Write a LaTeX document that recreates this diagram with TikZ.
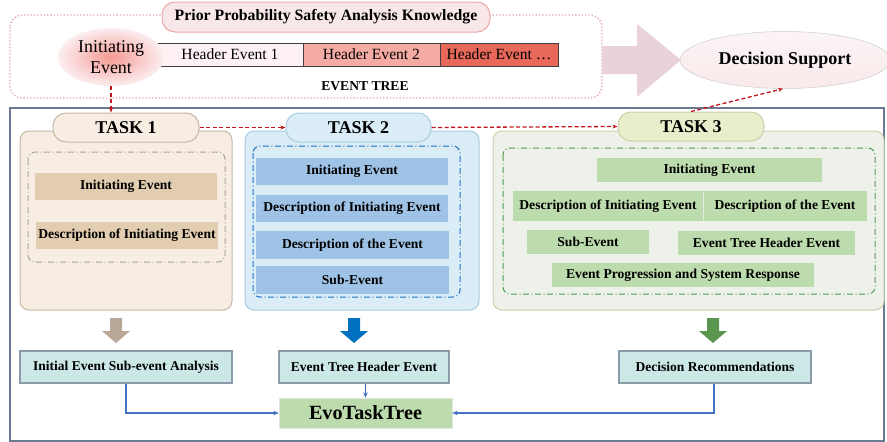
\documentclass[tikz,border=0pt]{standalone}
\usepackage{fontspec}
\setmainfont{Liberation Serif}
\usetikzlibrary{arrows.meta,shapes.geometric,positioning}
\definecolor{pinkdot}{HTML}{E3A5A5}
\definecolor{pillpink}{HTML}{F7E7E9}
\definecolor{pillpinkb}{HTML}{EBA9A6}
\definecolor{he1}{HTML}{FDF1F3}
\definecolor{he2}{HTML}{F5ABA3}
\definecolor{he3}{HTML}{E8685A}
\definecolor{bigarrow}{HTML}{EAD2DC}
\definecolor{dsfill}{HTML}{F8EDEF}
\definecolor{frame}{HTML}{6A7A92}
\definecolor{redd}{HTML}{C0161C}
\definecolor{t1fill}{HTML}{F8EDE3}
\definecolor{t1b}{HTML}{C5B6A6}
\definecolor{t1in}{HTML}{E2CDB0}
\definecolor{t2fill}{HTML}{DAEDF7}
\definecolor{t2b}{HTML}{A9CCE0}
\definecolor{t2in}{HTML}{9FC3E6}
\definecolor{t2dash}{HTML}{1F6FC0}
\definecolor{t3fill}{HTML}{EEF1EA}
\definecolor{t3b}{HTML}{C9D1A9}
\definecolor{t3pill}{HTML}{E8EDCB}
\definecolor{t3in}{HTML}{BDDCAD}
\definecolor{t3dash}{HTML}{4E9A4E}
\definecolor{btmfill}{HTML}{CBE8E6}
\definecolor{btmb}{HTML}{8A9AA8}
\definecolor{conn}{HTML}{4472C4}
\definecolor{arrbeige}{HTML}{B8A898}
\definecolor{arrblue}{HTML}{0070C0}
\definecolor{arrgreen}{HTML}{5A9650}
\tikzset{
  pill/.style={draw, rounded corners=13pt, line width=1pt, font=\bfseries\fontsize{18}{20}\selectfont, inner sep=0pt},
  taskbox/.style={draw, rounded corners=9pt, line width=1pt},
  inbox/.style={rounded corners=7pt, line width=1pt, dash pattern=on 6pt off 2.5pt on 1pt off 2.5pt},
  item/.style={inner sep=0pt, font=\bfseries\fontsize{13.6}{15}\selectfont},
  hev/.style={draw=black!75, line width=1pt, inner sep=0pt, minimum height=23pt, font=\fontsize{15.6}{17}\selectfont},
  btm/.style={draw=btmb, fill=btmfill, line width=1.5pt, inner sep=0pt, minimum height=32pt, font=\bfseries\fontsize{13.5}{15}\selectfont},
  reddash/.style={draw=redd, line width=1.3pt, dash pattern=on 4pt off 2.5pt, -{Stealth[length=5pt,width=4pt]}},
  bconn/.style={draw=conn, line width=1.2pt, -{Stealth[length=5.5pt,width=4.5pt]}}
}
\begin{document}
\begin{tikzpicture}[x=1pt,y=-1pt]
\useasboundingbox (0,0) rectangle (887,442);
% top dotted area
\draw[pinkdot, line width=1.3pt, dotted, rounded corners=12pt] (10,15) rectangle (602,98);
\node[pill, draw=pillpinkb, fill=pillpink, minimum width=328pt, minimum height=30pt, font=\bfseries\fontsize{15.8}{17}\selectfont] (prior) at (326,17) {Prior Probability Safety Analysis Knowledge};
% header events
\node[hev, fill=he1, minimum width=146pt] (h1) at (230,54.5) {Header Event 1};
\node[hev, fill=he2, minimum width=137pt] (h2) at (371.5,54.5) {Header Event 2};
\node[hev, fill=he3, minimum width=118pt] (h3) at (499,54.5) {Header Event \dots};
\node[ellipse, draw=none, inner color=he2!90!red, outer color=he1!70!pillpink, minimum width=106pt, minimum height=58pt, inner sep=0pt, align=center, font=\fontsize{18}{21}\selectfont] (ie) at (111,57) {Initiating\\Event};
\node[font=\bfseries\fontsize{13.6}{15}\selectfont] (et) at (365,86) {EVENT TREE};
% big arrow
\fill[bigarrow] (602,46) -- (637,46) -- (637,24) -- (681,60) -- (637,97) -- (637,74) -- (602,74) -- cycle;
\node[ellipse, draw=black!20, line width=0.5pt, top color=dsfill!60!white, bottom color=dsfill!90!pink, minimum width=210pt, minimum height=57pt, font=\bfseries\fontsize{18}{20}\selectfont] (ds) at (785,60) {Decision Support};
% main frame
\draw[frame, line width=1.6pt] (10,108) rectangle (884,441);
% task 1
\draw[taskbox, draw=t1b, fill=t1fill] (20,131) rectangle (232,310);
\draw[inbox, draw=black!35] (28,152) rectangle (225,262);
\node[item, fill=t1in, minimum width=182pt, minimum height=27pt] (a1) at (126,186.5) {Initiating Event};
\node[item, fill=t1in, minimum width=182pt, minimum height=27pt] (a2) at (127,235.5) {Description of Initiating Event};
\node[pill, draw=t1b, fill=t1fill, minimum width=146pt, minimum height=29pt] (t1) at (126,127.5) {TASK 1};
% task 2
\draw[taskbox, draw=t2b, fill=t2fill] (245,131) rectangle (479,310);
\draw[inbox, draw=t2dash] (253,146) rectangle (460,297);
\node[item, fill=t2in, minimum width=192pt, minimum height=27pt] (b1) at (352,171.5) {Initiating Event};
\node[item, fill=t2in, minimum width=192pt, minimum height=27pt] (b2) at (352,208.5) {Description of Initiating Event};
\node[item, fill=t2in, minimum width=193pt, minimum height=28pt] (b3) at (352.5,245) {Description of the Event};
\node[item, fill=t2in, minimum width=193pt, minimum height=28pt] (b4) at (352.5,279.5) {Sub-Event};
\node[pill, draw=t2b, fill=t2fill, minimum width=145pt, minimum height=29pt] (t2) at (358.5,127.5) {TASK 2};
% task 3
\draw[taskbox, draw=t3b, fill=t3fill] (493,131) rectangle (884,310);
\draw[inbox, draw=t3dash] (503,148) rectangle (875,294);
\node[item, fill=t3in, minimum width=225pt, minimum height=24pt] (c1) at (709.5,170) {Initiating Event};
\node[item, fill=t3in, minimum width=190pt, minimum height=30pt] (c2) at (608,206) {Description of Initiating Event};
\node[item, fill=t3in, minimum width=164pt, minimum height=30pt] (c3) at (785,206) {Description of the Event};
\draw[t3fill!80!t3in, line width=0.8pt] (703,192) -- (703,220);
\node[item, fill=t3in, minimum width=122pt, minimum height=24pt] (c4) at (588,242) {Sub-Event};
\node[item, fill=t3in, minimum width=177pt, minimum height=24pt] (c5) at (766.5,243) {Event Tree Header Event};
\node[item, fill=t3in, minimum width=262pt, minimum height=24pt] (c6) at (683,275) {Event Progression and System Response};
\node[pill, draw=t3b, fill=t3pill, minimum width=146pt, minimum height=29pt] (t3) at (691,126.5) {TASK 3};
% red dashed connectors
\draw[reddash] (ie.south) -- (ie.south |- t1.north);
\draw[reddash] (t1.east) -- (t2.west);
\draw[reddash] (t2.east) -- (t3.west);
\draw[reddash] (t3.north) -- ([xshift=-2pt]ds.south);
% fat down arrows
\fill[arrbeige] (110,318) -- (122,318) -- (122,331) -- (130,331) -- (116,343) -- (102,331) -- (110,331) -- cycle;
\fill[arrblue] (348,318) -- (360,318) -- (360,331) -- (368,331) -- (354,343) -- (340,331) -- (348,331) -- cycle;
\fill[arrgreen] (707,318) -- (719,318) -- (719,331) -- (727,331) -- (713,343) -- (699,331) -- (707,331) -- cycle;
% bottom boxes
\node[btm, minimum width=212pt] (d1) at (126,367) {Initial Event Sub-event Analysis};
\node[btm, minimum width=170pt] (d2) at (364,367) {Event Tree Header Event};
\node[btm, minimum width=192pt] (d3) at (715,367) {Decision Recommendations};
\node[fill=t3in, draw=t3in!80!black!30, inner sep=0pt, minimum width=173pt, minimum height=30pt, font=\bfseries\fontsize{20.2}{22}\selectfont] (evo) at (365.5,413) {EvoTaskTree};
\draw[bconn] (d1.south) |- (evo.west);
\draw[bconn] (d2.south -| evo.north) -- (evo.north);
\draw[bconn] ([xshift=-1pt]d3.south) |- (evo.east);
\end{tikzpicture}
\end{document}
